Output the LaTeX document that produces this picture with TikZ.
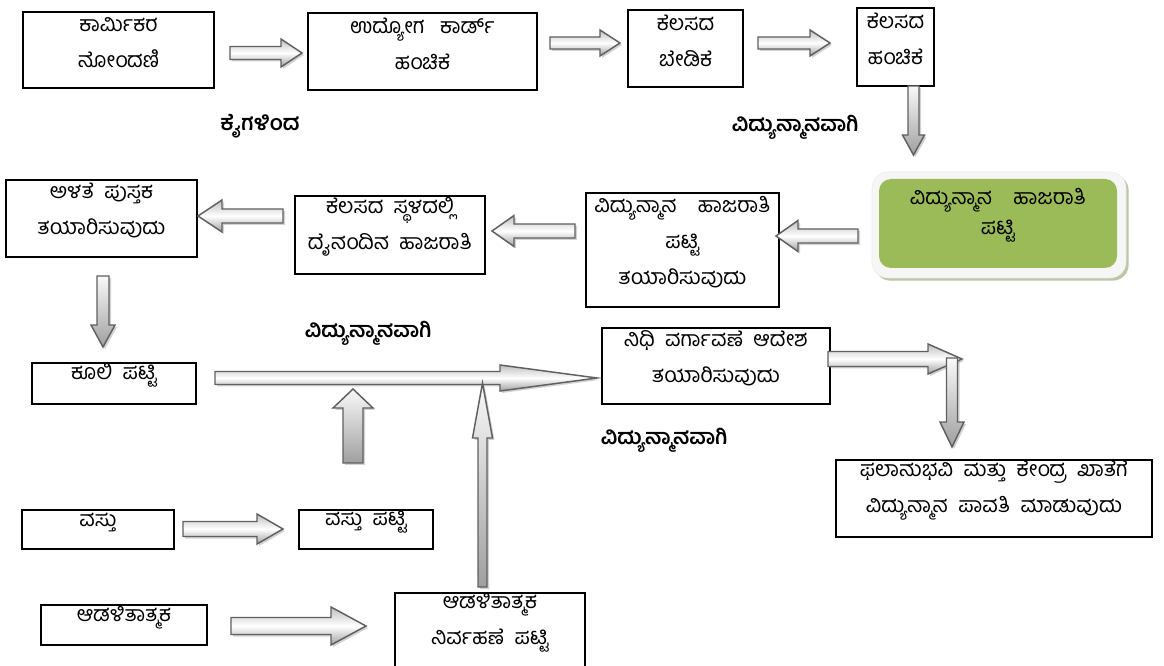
\documentclass[tikz,border=0pt]{standalone}
\usepackage{fontspec}
\newfontfamily\kn[Script=Kannada]{Hind Mysuru}
\usepackage{tikz}
\usetikzlibrary{positioning,calc,fit,shadows}
\definecolor{olivegr}{HTML}{9BBB59}

% block arrow: [style]{from}{to}{shaft half}{head half}{head length}, sizes in px
\newcommand{\blkarrow}[6][]{%
  \coordinate (hb) at ($(#3)!#6*0.75pt!(#2)$);
  \path[#1] ($(#2)!#4*0.75pt!90:(#3)$) -- ($(hb)!#4*0.75pt!90:(#3)$) -- ($(hb)!#5*0.75pt!90:(#3)$) -- (#3)
    -- ($(hb)!#5*0.75pt!-90:(#3)$) -- ($(hb)!#4*0.75pt!-90:(#3)$) -- ($(#2)!#4*0.75pt!-90:(#3)$) -- cycle;
}

\begin{document}
\begin{tikzpicture}[x=0.75pt,y=-0.75pt,
  box/.style={draw, line width=1.5pt, inner sep=0pt, align=center, text depth=13pt,
    font=\kn\fontsize{16}{27}\selectfont},
  lbl/.style={font=\kn\bfseries\fontsize{16}{18}\selectfont},
  harr/.style={draw=gray!75!black, line width=1.1pt, top color=gray!50, bottom color=gray!75, middle color=white,
    drop shadow={shadow xshift=1.5pt, shadow yshift=-1.5pt, opacity=0.35, fill=gray}},
  varr/.style={draw=gray!75!black, line width=1.1pt, top color=gray!5, bottom color=gray!75,
    drop shadow={shadow xshift=1.5pt, shadow yshift=-1.5pt, opacity=0.35, fill=gray}}]
\fill[white] (0,0) rectangle (1164,666);
\useasboundingbox (0,0) rectangle (1164,666);

% top row
\node[box, fit={(23,12) (214,88)}] (kar) {ಕಾರ್ಮಿಕರ\\ನೋಂದಣಿ};
\node[box, fit={(308,13) (537,90)}] (udy) {ಉದ್ಯೋಗ\ \ \ ಕಾರ್ಡ್\\ಹಂಚಿಕೆ};
\node[box, fit={(628,10) (743,87)}] (bed) {ಕೆಲಸದ\\ಬೇಡಿಕೆ};
\node[box, fit={(857,8) (934,86)}] (han) {ಕೆಲಸದ\\ಹಂಚಿಕೆ};
\node[lbl] (kai) at (260,126) {ಕೈಗಳಿಂದ};
\node[lbl] (vid1) at (795,127) {ವಿದ್ಯುನ್ಮಾನವಾಗಿ};

% green box
\node[fill=gray!7, draw=gray!15, rounded corners=12pt, inner sep=0pt, fit={(872,172) (1126,278)},
  drop shadow={shadow xshift=2pt, shadow yshift=-2pt, fill=olivegr!60!gray, opacity=0.6}] (gwrap) {};
\node[fill=olivegr, rounded corners=9pt, inner sep=0pt, align=center, text height=17pt,
  font=\kn\fontsize{16}{23}\selectfont, fit={(879,179) (1117,268)}] (ehaj) {ವಿದ್ಯುನ್ಮಾನ\quad ಹಾಜರಾತಿ\\ಪಟ್ಟಿ};

% second row
\node[box, fit={(586,193) (779,307)}] (tay) {ವಿದ್ಯುನ್ಮಾನ\quad ಹಾಜರಾತಿ\\ಪಟ್ಟಿ\\ತಯಾರಿಸುವುದು};
\node[box, fit={(295,196) (485,274)}] (sth) {ಕೆಲಸದ\ \ ಸ್ಥಳದಲ್ಲಿ\\ದೈನಂದಿನ\ \ ಹಾಜರಾತಿ};
\node[box, fit={(6,180) (197,257)}] (ala) {ಅಳತೆ\ \ ಪುಸ್ತಕ\\ತಯಾರಿಸುವುದು};

% third row
\node[box, fit={(32,363) (196,404)}] (kul) {ಕೂಲಿ\ \ ಪಟ್ಟಿ};
\node[lbl] (vid2) at (368,333) {ವಿದ್ಯುನ್ಮಾನವಾಗಿ};
\node[box, fit={(602,328) (830,404)}] (nid) {ನಿಧಿ\ \ ವರ್ಗಾವಣೆ\ \ ಆದೇಶ\\ತಯಾರಿಸುವುದು};
\node[lbl] (vid3) at (664,440) {ವಿದ್ಯುನ್ಮಾನವಾಗಿ};
\node[box, fit={(836,460) (1152,537)}] (pav) {ಫಲಾನುಭವಿ\ \ ಮತ್ತು\ \ ಕೇಂದ್ರ\ \ ಖಾತೆಗೆ\\ವಿದ್ಯುನ್ಮಾನ\ \ ಪಾವತಿ\ \ ಮಾಡುವುದು};

% bottom rows
\node[box, fit={(22,510) (174,549)}] (vas) {ವಸ್ತು};
\node[box, fit={(299,510) (433,549)}] (vpt) {ವಸ್ತು\ \ ಪಟ್ಟಿ};
\node[box, fit={(41,605) (207,645)}] (adl) {ಆಡಳಿತಾತ್ಮಕ};
\node[box, fit={(395,593) (585,667)}] (nir) {ಆಡಳಿತಾತ್ಮಕ\\ನಿರ್ವಹಣೆ\ \ ಪಟ್ಟಿ};

% arrow ends
\coordinate (a1) at (230,53);   \coordinate (b1) at (302,53);
\coordinate (a2) at (550,43);   \coordinate (b2) at (620,43);
\coordinate (a3) at (758,43);   \coordinate (b3) at (830,43);
\coordinate (a4) at (913.5,86); \coordinate (b4) at (913.5,155);
\coordinate (a5) at (858,236);  \coordinate (b5) at (776,236);
\coordinate (a6) at (575,231);  \coordinate (b6) at (492,231);
\coordinate (a7) at (283,216);  \coordinate (b7) at (198,216);
\coordinate (a8) at (103,276);  \coordinate (b8) at (103,347);
\coordinate (a9) at (215,378);  \coordinate (b9) at (597,378);
\coordinate (a10) at (353,463); \coordinate (b10) at (353,389);
\coordinate (a11) at (482.5,587); \coordinate (b11) at (482.5,383);
\coordinate (a12) at (828,359); \coordinate (b12) at (962,359);
\coordinate (a13) at (952,358); \coordinate (b13) at (952,447);
\coordinate (a14) at (183,529); \coordinate (b14) at (283,529);
\coordinate (a15) at (231,626); \coordinate (b15) at (366,626);

\blkarrow[harr]{a1}{b1}{6.5}{14}{21}
\blkarrow[harr]{a2}{b2}{6}{13}{20}
\blkarrow[harr]{a3}{b3}{6}{13}{20}
\blkarrow[varr]{a4}{b4}{5.5}{11}{20}
\blkarrow[harr]{a5}{b5}{7}{15.5}{22}
\blkarrow[harr]{a6}{b6}{7}{15.5}{22}
\blkarrow[harr]{a7}{b7}{7}{16}{24}
\blkarrow[varr]{a8}{b8}{6}{12}{22}
\blkarrow[harr]{a9}{b9}{6.5}{13}{97}
\blkarrow[varr]{a10}{b10}{10}{20}{19}
\blkarrow[varr]{a11}{b11}{4.5}{10}{55}
\blkarrow[harr]{a12}{b12}{7.5}{15}{34}
\blkarrow[varr]{a13}{b13}{5.5}{12}{25}
\blkarrow[harr]{a14}{b14}{7.5}{15}{26}
\blkarrow[harr]{a15}{b15}{8.5}{19}{35}
\end{tikzpicture}
\end{document}
